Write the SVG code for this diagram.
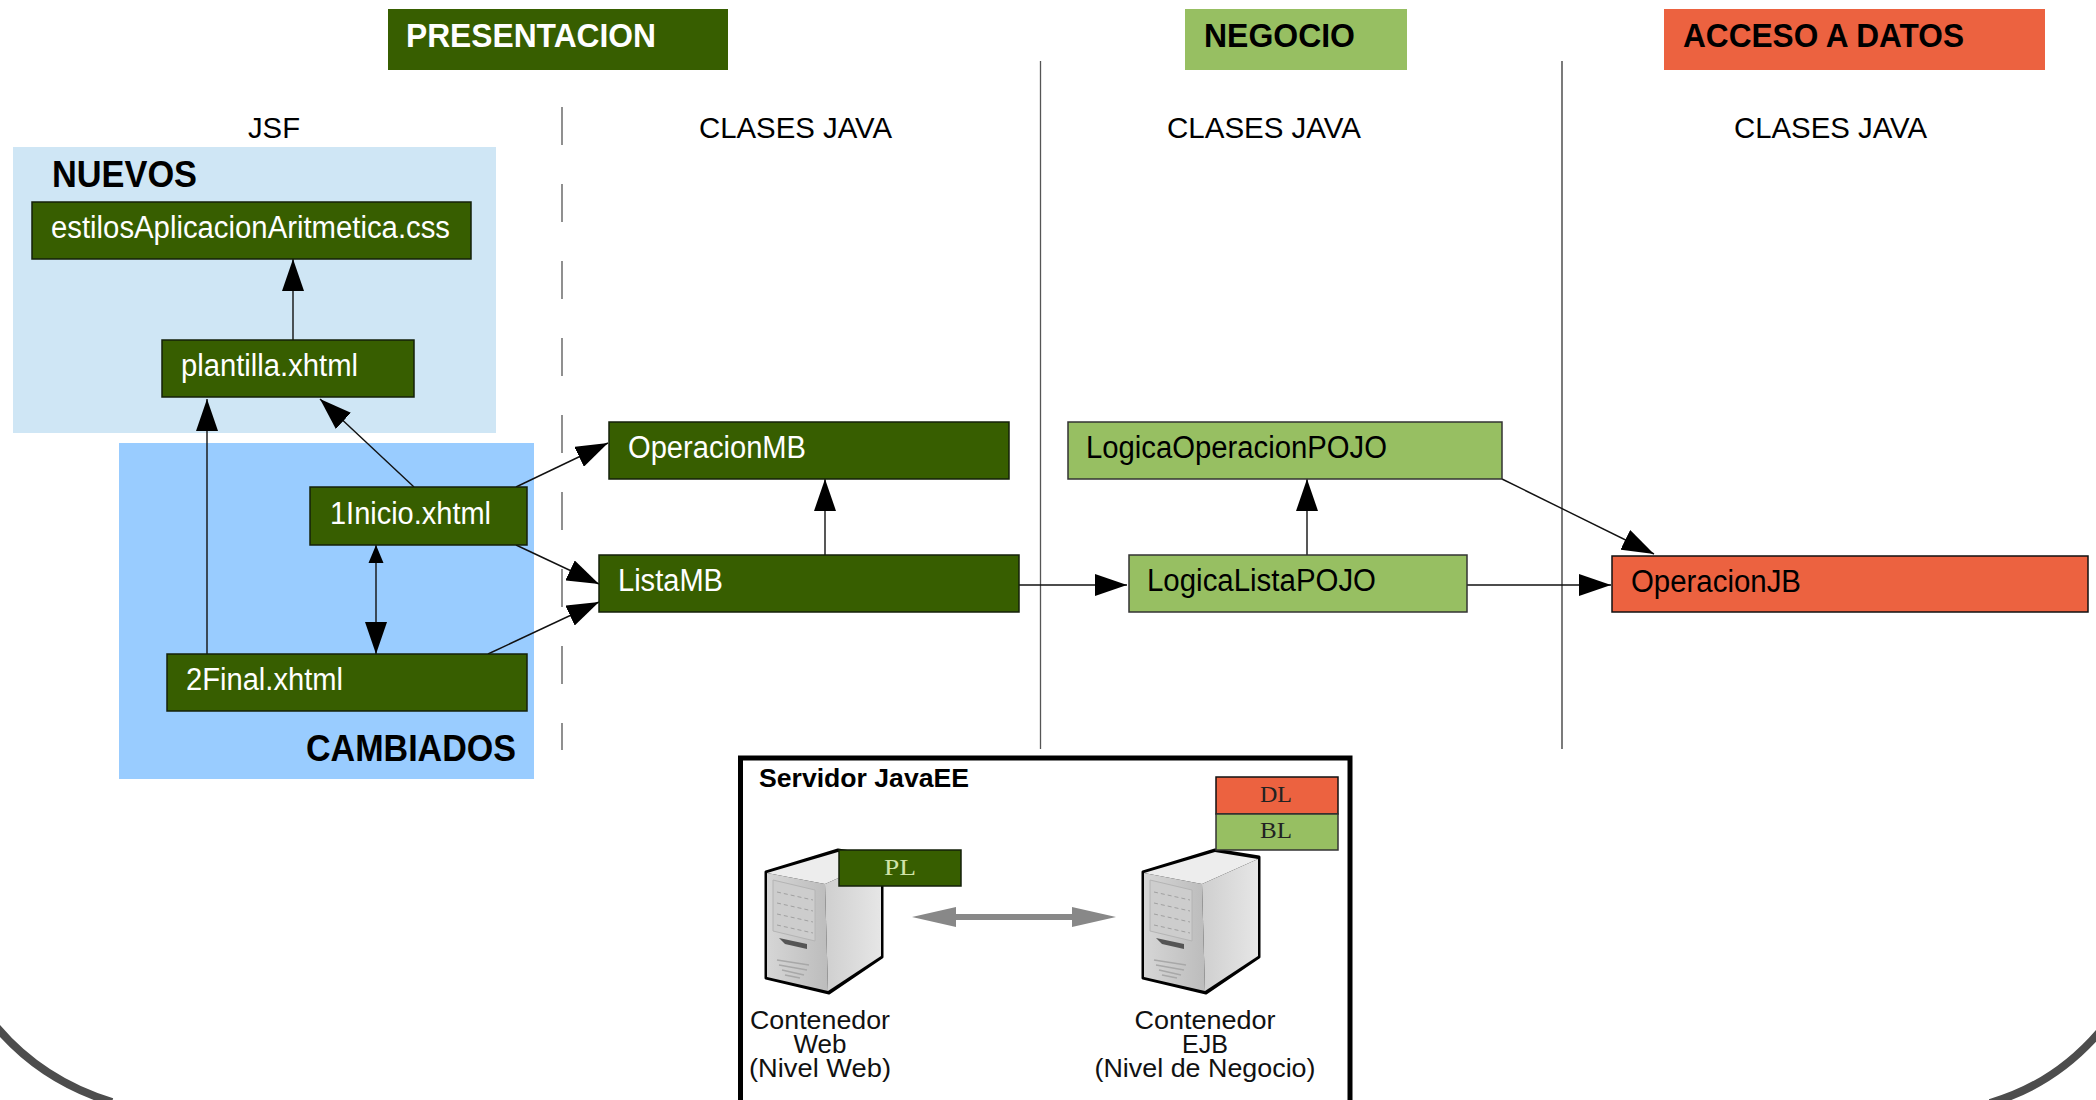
<svg xmlns="http://www.w3.org/2000/svg" xmlns:xlink="http://www.w3.org/1999/xlink" width="2096" height="1100" viewBox="0 0 2096 1100">
<style>
text{font-family:"Liberation Sans",Arial,sans-serif}
.t{font-size:31px;fill:#000}
.w{font-size:31px;fill:#fff}
.h{font-size:33px;font-weight:bold;fill:#fff}
.hk{font-size:33px;font-weight:bold;fill:#000}
.big{font-size:36px;font-weight:bold;fill:#000}
.c{font-size:30px;fill:#000}
.m{font-size:23px;font-family:"Liberation Serif",serif;fill:#222}
.l{font-size:25px;fill:#111}
.dg{fill:#375e00;stroke:#14200a;stroke-width:1.5}
.lg{fill:#97bf62;stroke:#333;stroke-width:1.5}
.rd{fill:#ec6240;stroke:#111;stroke-width:1.5}
.cn{fill:none;stroke:#111;stroke-width:1.4}
.v{fill:none;stroke:#555;stroke-width:1.3}
.curve{fill:none;stroke:#4d4d4d;stroke-width:8}
</style>
<defs>
<marker id="a" markerUnits="userSpaceOnUse" markerWidth="32" markerHeight="22" refX="32" refY="11" orient="auto"><polygon points="0,0 32,11 0,22" fill="#000"/></marker>
<linearGradient id="fr" x1="0" y1="0" x2="1" y2="0"><stop offset="0" stop-color="#d6d6d6"/><stop offset="1" stop-color="#bcbcbc"/></linearGradient>
<linearGradient id="sd" x1="0" y1="0" x2="1" y2="0"><stop offset="0" stop-color="#cfcfcf"/><stop offset="1" stop-color="#e6e6e6"/></linearGradient>
<g id="server">
<polygon points="766,872 838,850 882,857 882,957 829,993 766,978" fill="#000" stroke="#000" stroke-width="3" stroke-linejoin="round"/>
<polygon points="767,873 825,884 828,991 767,977" fill="url(#fr)"/>
<polygon points="825,884 881,859 881,956 828,991" fill="url(#sd)"/>
<polygon points="767,873 838,852 881,859 825,884" fill="#ededed"/>
<polygon points="773,880 815,890 815,941 773,931" fill="#cdcdcd" stroke="#b4b4b4" stroke-width="1"/>
<path d="M777,892 L813,900 M777,903 L813,911 M777,914 L813,922 M777,925 L813,933" stroke="#a0a0a0" stroke-width="1" stroke-dasharray="4 3" fill="none"/>
<polygon points="779,938 807,944 807,949 785,944" fill="#555"/>
<path d="M777,960 L809,965 M779,965 L807,970 M782,970 L804,975 M785,975 L800,978" stroke="#a8a8a8" stroke-width="1.5" fill="none"/>
</g>
</defs>

<g id="lane-lines">
<line class="v" x1="562" y1="107" x2="562" y2="750" stroke-dasharray="38 39"/>
<line class="v" x1="1040.500" y1="61" x2="1040.500" y2="749"/>
<line class="v" x1="1562" y1="61" x2="1562" y2="749" style="stroke:#333"/>
</g>

<g id="header-presentacion"><rect x="388" y="9" width="340" height="61" fill="#375e00"/><text class="h" x="406" y="47" textLength="250" lengthAdjust="spacingAndGlyphs">PRESENTACION</text></g>
<g id="header-negocio"><rect x="1185" y="9" width="222" height="61" fill="#97bf62"/><text class="hk" x="1204" y="47" textLength="151" lengthAdjust="spacingAndGlyphs">NEGOCIO</text></g>
<g id="header-acceso"><rect x="1664" y="9" width="381" height="61" fill="#ec6240"/><text class="hk" x="1683" y="47" textLength="281" lengthAdjust="spacingAndGlyphs">ACCESO A DATOS</text></g>

<g id="col-jsf"><text class="c" x="248" y="138" textLength="52" lengthAdjust="spacingAndGlyphs">JSF</text></g>
<g id="col-java-1"><text class="c" x="699" y="138" textLength="193" lengthAdjust="spacingAndGlyphs">CLASES JAVA</text></g>
<g id="col-java-2"><text class="c" x="1167" y="138" textLength="194" lengthAdjust="spacingAndGlyphs">CLASES JAVA</text></g>
<g id="col-java-3"><text class="c" x="1734" y="138" textLength="193" lengthAdjust="spacingAndGlyphs">CLASES JAVA</text></g>

<g id="group-nuevos"><rect x="13" y="147" width="483" height="286" fill="#cfe6f5"/><text class="big" x="52" y="187" textLength="145" lengthAdjust="spacingAndGlyphs">NUEVOS</text></g>
<g id="group-cambiados"><rect x="119" y="443" width="415" height="336" fill="#99ccff"/><text class="big" x="306" y="761" textLength="210" lengthAdjust="spacingAndGlyphs">CAMBIADOS</text></g>

<g id="connectors">
<line class="cn" x1="293" y1="340" x2="293" y2="259" marker-end="url(#a)"/>
<line class="cn" x1="207" y1="654" x2="207" y2="399" marker-end="url(#a)"/>
<line class="cn" x1="414" y1="487" x2="320" y2="399" marker-end="url(#a)"/>
<line class="cn" x1="516" y1="487" x2="608" y2="443" marker-end="url(#a)"/>
<line class="cn" x1="516" y1="545" x2="599" y2="584" marker-end="url(#a)"/>
<line class="cn" x1="488" y1="654" x2="599" y2="602" marker-end="url(#a)"/>
<line class="cn" x1="376" y1="545" x2="376" y2="654" marker-end="url(#a)"/>
<polygon points="376,545 383.500,563 368.500,563" fill="#000"/>
<line class="cn" x1="825" y1="555" x2="825" y2="479" marker-end="url(#a)"/>
<line class="cn" x1="1019" y1="585" x2="1127" y2="585" marker-end="url(#a)"/>
<line class="cn" x1="1307" y1="555" x2="1307" y2="479" marker-end="url(#a)"/>
<line class="cn" x1="1502" y1="479" x2="1654" y2="554" marker-end="url(#a)"/>
<line class="cn" x1="1467" y1="585" x2="1611" y2="585" marker-end="url(#a)"/>
</g>

<g id="node-css"><rect class="dg" x="32" y="202" width="439" height="57"/><text class="w" x="51" y="238" textLength="399" lengthAdjust="spacingAndGlyphs">estilosAplicacionAritmetica.css</text></g>
<g id="node-plantilla"><rect class="dg" x="162" y="340" width="252" height="57"/><text class="w" x="181" y="376" textLength="177" lengthAdjust="spacingAndGlyphs">plantilla.xhtml</text></g>
<g id="node-inicio"><rect class="dg" x="310" y="487" width="217" height="58"/><text class="w" x="330" y="524" textLength="161" lengthAdjust="spacingAndGlyphs">1Inicio.xhtml</text></g>
<g id="node-final"><rect class="dg" x="167" y="654" width="360" height="57"/><text class="w" x="186" y="690" textLength="157" lengthAdjust="spacingAndGlyphs">2Final.xhtml</text></g>
<g id="node-operacionmb"><rect class="dg" x="609" y="422" width="400" height="57"/><text class="w" x="628" y="458" textLength="178" lengthAdjust="spacingAndGlyphs">OperacionMB</text></g>
<g id="node-listamb"><rect class="dg" x="599" y="555" width="420" height="57"/><text class="w" x="618" y="591" textLength="105" lengthAdjust="spacingAndGlyphs">ListaMB</text></g>
<g id="node-logicaoperacion"><rect class="lg" x="1068" y="422" width="434" height="57"/><text class="t" x="1086" y="458" textLength="301" lengthAdjust="spacingAndGlyphs">LogicaOperacionPOJO</text></g>
<g id="node-logicalista"><rect class="lg" x="1129" y="555" width="338" height="57"/><text class="t" x="1147" y="591" textLength="229" lengthAdjust="spacingAndGlyphs">LogicaListaPOJO</text></g>
<g id="node-operacionjb"><rect class="rd" x="1612" y="556" width="476" height="56"/><text class="t" x="1631" y="592" textLength="170" lengthAdjust="spacingAndGlyphs">OperacionJB</text></g>

<g id="bottom-curves">
<path class="curve" d="M-6,1024 Q40,1080 112,1102"/>
<path class="curve" d="M2102,1029 Q2056,1084 1990,1103"/>
</g>

<g id="servidor">
<rect x="740.500" y="758" width="609.500" height="360" fill="#fff" stroke="#000" stroke-width="5"/>
<text x="759" y="787" font-size="25" font-weight="bold" fill="#000" textLength="210" lengthAdjust="spacingAndGlyphs">Servidor JavaEE</text>
</g>
<g id="server-web">
<use xlink:href="#server" href="#server"/>
<rect class="dg" x="839" y="850" width="122" height="36"/>
<text class="m" x="884" y="875" style="fill:#cfe3a8" textLength="32" lengthAdjust="spacingAndGlyphs">PL</text>
<g text-anchor="middle">
<text class="l" x="820" y="1029" textLength="140" lengthAdjust="spacingAndGlyphs">Contenedor</text>
<text class="l" x="820" y="1053" textLength="53" lengthAdjust="spacingAndGlyphs">Web</text>
<text class="l" x="820" y="1077" textLength="142" lengthAdjust="spacingAndGlyphs">(Nivel Web)</text>
</g>
</g>
<g id="server-ejb">
<use xlink:href="#server" href="#server" x="377"/>
<rect class="rd" x="1216" y="777" width="122" height="37"/>
<rect class="lg" x="1216" y="814" width="122" height="36"/>
<text class="m" x="1260" y="802" textLength="32" lengthAdjust="spacingAndGlyphs">DL</text>
<text class="m" x="1260" y="838" textLength="32" lengthAdjust="spacingAndGlyphs">BL</text>
<g text-anchor="middle">
<text class="l" x="1205" y="1029" textLength="141" lengthAdjust="spacingAndGlyphs">Contenedor</text>
<text class="l" x="1205" y="1053" textLength="46" lengthAdjust="spacingAndGlyphs">EJB</text>
<text class="l" x="1205" y="1077" textLength="221" lengthAdjust="spacingAndGlyphs">(Nivel de Negocio)</text>
</g>
</g>
<g id="server-link">
<line x1="950" y1="917" x2="1078" y2="917" stroke="#888" stroke-width="6"/>
<polygon points="912,917 956,907 956,927" fill="#888"/>
<polygon points="1116,917 1072,907 1072,927" fill="#888"/>
</g>
</svg>
